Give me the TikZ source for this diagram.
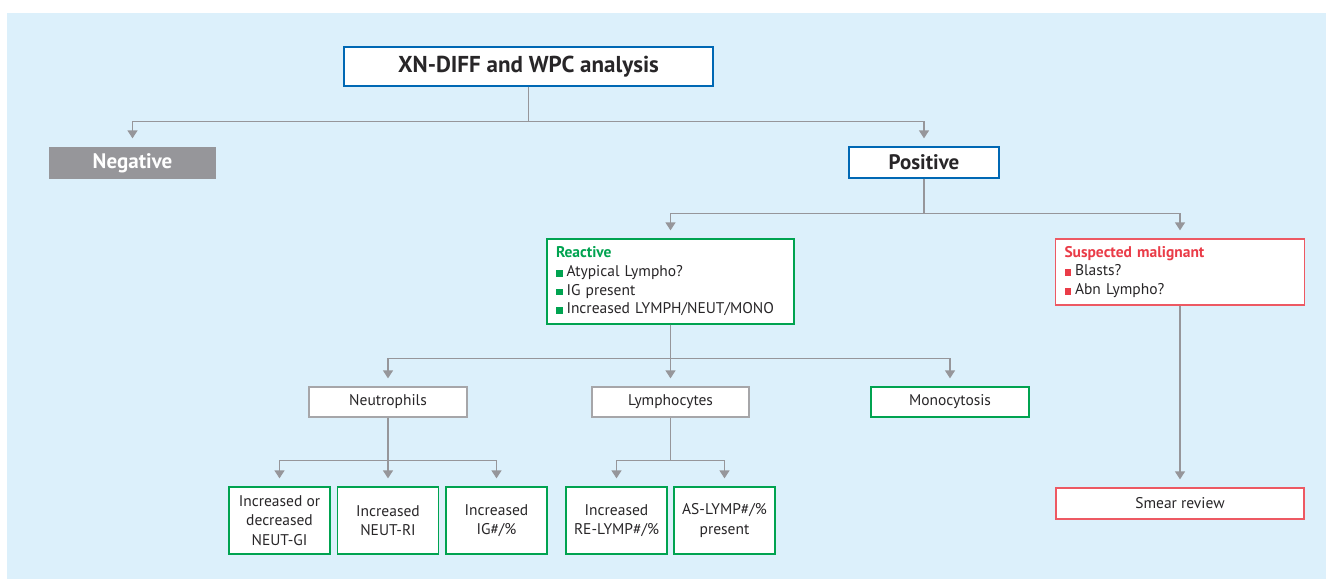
\documentclass[tikz,border=0pt]{standalone}
\usepackage{fontspec}
\setmainfont{PT Sans}
\usetikzlibrary{arrows.meta, positioning}
\definecolor{color1}{RGB}{220,240,251}
\definecolor{color2}{RGB}{0,104,180}
\definecolor{color3}{RGB}{0,163,80}
\definecolor{color4}{RGB}{234,60,72}
\definecolor{color5}{RGB}{150,150,154}
\definecolor{color6}{RGB}{40,38,40}
\newcommand{\gsq}{\textcolor{color3}{\rule{6.5pt}{6.5pt}}\hspace{4pt}}
\newcommand{\rsq}{\textcolor{color4}{\rule{6.5pt}{6.5pt}}\hspace{4pt}}
\tikzset{
	box/.style={draw, line width=1.3pt, fill=white, text=color6, inner sep=0pt, align=center, font=\fontsize{15.5}{19.5}\selectfont},
	bluebox/.style={box, draw=color2, font=\fontsize{21}{24}\selectfont\bfseries},
	greenbox/.style={box, draw=color3},
	redbox/.style={box, draw=color4!85!white},
	graybox/.style={box, draw=color5!85!white},
	listbox/.style={align=left, inner xsep=9pt, font=\fontsize{15.5}{18.7}\selectfont},
	conn/.style={draw=color5, line width=1.3pt, -{Triangle[width=10pt,length=8pt]}, shorten >=8pt}
}

\begin{document}
\begin{tikzpicture}[x=1pt,y=-1pt]
		\useasboundingbox (0,0) rectangle (1326,579);
		\fill[color1] (7,13) rectangle (1326,579);
		
		% top levels
		\node[bluebox, minimum width=369pt, minimum height=39pt, font=\fontsize{23}{26}\selectfont\bfseries] (xn) at (528.5,66.5) {XN-DIFF and WPC analysis};
		\node[box, draw=none, fill=color5, text=white, minimum width=167pt, minimum height=32pt, font=\fontsize{21}{24}\selectfont\bfseries] (neg) at (132.5,163) {Negative};
		\node[bluebox, minimum width=150pt, minimum height=31pt] (pos) at (924,162.5) {Positive};
		
		% findings
		\node[greenbox, listbox, text width=229pt, minimum height=85pt] (react) at (670.5,281.5) {\textcolor{color3}{\textbf{Reactive}}\\ \gsq Atypical Lympho?\\ \gsq IG present\\ \gsq Increased LYMPH/NEUT/MONO};
		\node[redbox, listbox, text width=231pt, minimum height=66pt] (susp) at (1180,272) {\textcolor{color4}{\textbf{Suspected malignant}}\\ \rsq Blasts?\\ \rsq Abn Lympho?};
		
		% cell lines
		\node[graybox, minimum width=158pt, minimum height=30pt] (neu) at (388,402) {Neutrophils};
		\node[graybox, minimum width=157pt, minimum height=30pt] (lym) at (670.5,402) {Lymphocytes};
		\node[greenbox, minimum width=158pt, minimum height=30pt] (mono) at (950,402) {Monocytosis};
		
		% parameters
		\node[greenbox, minimum width=101pt, minimum height=67pt] (ngi) at (279.5,520.5) {Increased or\\ decreased\\ NEUT-GI};
		\node[greenbox, minimum width=101pt, minimum height=67pt] (nri) at (388,520.5) {Increased\\ NEUT-RI};
		\node[greenbox, minimum width=101pt, minimum height=67pt] (ig) at (496.5,520.5) {Increased\\ IG\#/\%};
		\node[greenbox, minimum width=101pt, minimum height=67pt] (relymp) at (616.5,520.5) {Increased\\ RE-LYMP\#/\%};
		\node[greenbox, minimum width=101pt, minimum height=67pt] (aslymp) at (724.5,520.5) {AS-LYMP\#/\%\\ present};
		\node[redbox, minimum width=248pt, minimum height=31pt] (smear) at (1180,503.5) {Smear review};
		
		% connectors
		\foreach \c in {neg,pos}
			\draw[conn] (xn.south) -- ++(0,35) -| (\c.north);
		\foreach \c in {react,susp}
			\draw[conn] (pos.south) -- ++(0,35) -| (\c.north);
		\foreach \c in {neu,lym,mono}
			\draw[conn] (react.south) -- ++(0,34) -| (\c.north);
		\foreach \c in {ngi,nri,ig}
			\draw[conn] (neu.south) -- ++(0,43) -| (\c.north);
		\foreach \c in {relymp,aslymp}
			\draw[conn] (lym.south) -- ++(0,43) -| (\c.north);
		\draw[conn] (susp.south) -- (smear.north);
		
\end{tikzpicture}
\end{document}
